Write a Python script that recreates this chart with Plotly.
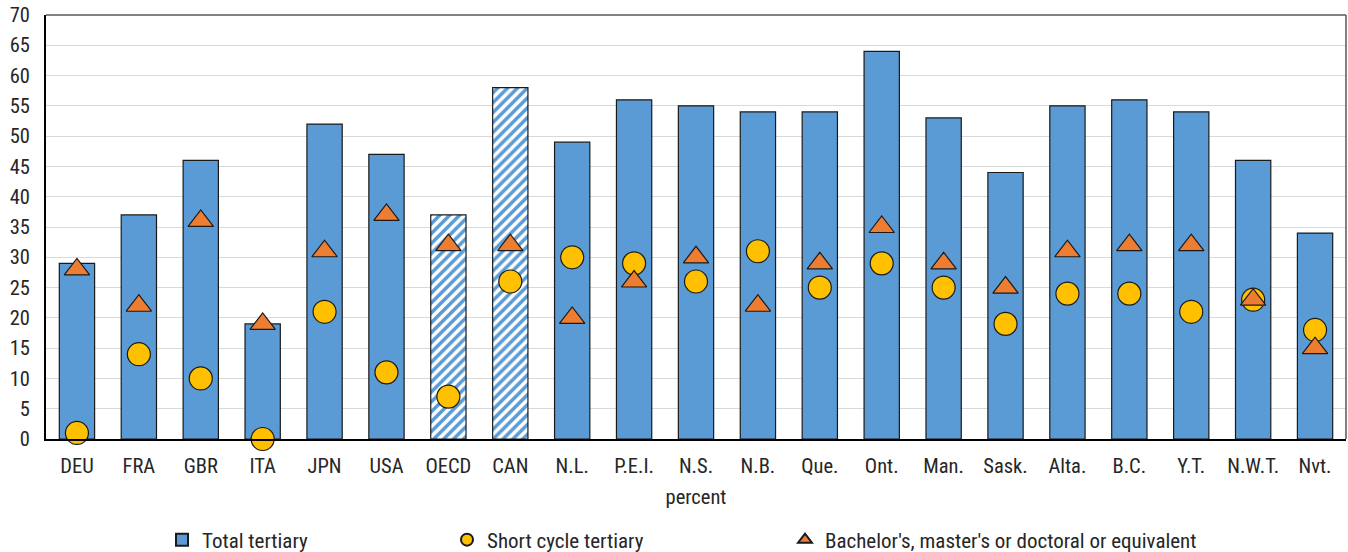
import plotly.graph_objects as go

categories = ["DEU", "FRA", "GBR", "ITA", "JPN", "USA", "OECD", "CAN", "N.L.", "P.E.I.",
              "N.S.", "N.B.", "Que.", "Ont.", "Man.", "Sask.", "Alta.", "B.C.", "Y.T.",
              "N.W.T.", "Nvt."]
total_tertiary = [29, 37, 46, 19, 52, 47, 37, 58, 49, 56, 55, 54, 54, 64, 53, 44, 55, 56, 54, 46, 34]
short_cycle = [1, 14, 10, 0, 21, 11, 7, 26, 30, 29, 26, 31, 25, 29, 25, 19, 24, 24, 21, 23, 18]
bachelor_plus = [28, 22, 36, 19, 31, 37, 32, 32, 20, 26, 30, 22, 29, 35, 29, 25, 31, 32, 32, 23, 15]
hatched = ["OECD", "CAN"]

BLUE = "#5B9BD5"
FONT = "Liberation Sans Narrow, Roboto Condensed, Arial Narrow, Roboto, sans-serif"
TXT = "#262626"
FS = 20.5
LFS = 21

pattern_shapes = ["/" if c in hatched else "" for c in categories]

fig = go.Figure()
fig.add_trace(go.Bar(
    x=categories, y=total_tertiary, name="Total tertiary",
    marker=dict(color=BLUE, line=dict(color="#1a1a1a", width=1.2),
                pattern=dict(shape=pattern_shapes, fgcolor=BLUE, bgcolor="white",
                             fillmode="replace", size=7, solidity=0.5)),
    legend="legend",
))
fig.add_trace(go.Scatter(
    x=categories, y=short_cycle, name="Short cycle tertiary", mode="markers",
    marker=dict(symbol="circle", size=23, color="#FFC000", line=dict(color="#1a1a1a", width=1.2)),
    cliponaxis=False, legend="legend2",
))
fig.add_trace(go.Scatter(
    x=categories, y=bachelor_plus, name="Bachelor's, master's or doctoral or equivalent", mode="markers",
    marker=dict(symbol="triangle-up", size=22, color="#ED7D31", line=dict(color="#1a1a1a", width=1.2)),
    cliponaxis=False, legend="legend3",
))

legend_common = dict(orientation="h", yref="container", y=12/552, yanchor="middle",
                     xref="container", xanchor="left", itemsizing="constant",
                     font=dict(family=FONT, size=LFS, color=TXT), bgcolor="rgba(0,0,0,0)")

fig.update_layout(
    width=1348, height=552,
    margin=dict(l=46, r=2, t=15, b=113),
    paper_bgcolor="white", plot_bgcolor="white",
    font=dict(family=FONT, size=FS, color=TXT),
    bargap=0.43,
    showlegend=True,
    legend=dict(x=162/1348, **legend_common),
    legend2=dict(x=447/1348, **legend_common),
    legend3=dict(x=785/1348, **legend_common),
    xaxis=dict(range=[-0.5, len(categories) - 0.5], showline=True, linecolor="#000000",
               linewidth=1.5, ticks="", ticklabelstandoff=8,
               title=dict(text="percent", font=dict(family=FONT, size=FS, color=TXT), standoff=12),
               tickfont=dict(family=FONT, size=FS, color=TXT)),
    yaxis=dict(range=[0, 70], dtick=5, showline=True, linecolor="#000000", linewidth=2,
               showgrid=True, gridcolor="#d9d9d9", gridwidth=1, zeroline=False, ticks="",
               ticklabelstandoff=10,
               tickfont=dict(family=FONT, size=FS, color=TXT)),
    shapes=[
        dict(type="line", xref="paper", yref="paper", x0=0, x1=1, y0=1, y1=1,
             line=dict(color="#595959", width=1.5)),
        dict(type="line", xref="paper", yref="paper", x0=1, x1=1, y0=0, y1=1,
             line=dict(color="#595959", width=1.5)),
    ],
)

fig.write_html("out.html", config={"displayModeBar": False},
               post_script="document.body.style.margin='0';document.body.style.overflow='hidden';")
